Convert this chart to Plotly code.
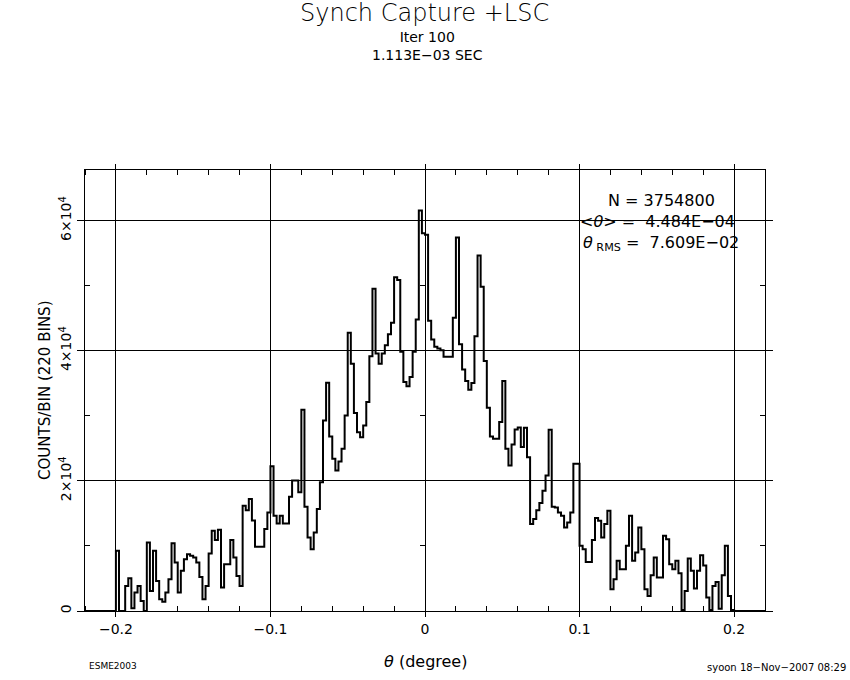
import numpy as np
import plotly.graph_objects as go

# ---- data ----
bin_low = -0.22
bin_width = 0.002
n_bins = 220

counts = [
    0, 0, 0, 0, 0, 0, 0, 0, 0, 0,
    9250, 0, 0, 3850, 5040, 410, 2830, 3850, 1540, 0,
    10540, 3080, 9250, 4630, 1800, 1440, 2830, 4880, 10430, 7450,
    2830, 6170, 7970, 8740, 8500, 8220, 7450, 5240, 1800, 3850,
    8840, 12340, 10900, 12500, 3600, 7200, 7200, 10900, 8230, 5400,
    3850, 16200, 15500, 17200, 13900, 9870, 9870, 9870, 12600, 15160,
    22250, 14650, 13460, 14650, 13460, 13460, 17580, 20050, 20050, 18250,
    30950, 16040, 11310, 9510, 12080, 15680, 19790, 29300, 35110, 26830,
    23390, 21590, 23000, 24930, 30070, 42770, 38030, 30430, 27500, 26730,
    28530, 32130, 39170, 49550, 39580, 38030, 39580, 40860, 42560, 44310,
    51300, 50890, 39840, 35210, 34540, 35980, 39840, 44820, 61580, 58080,
    57830, 44620, 41730, 40610, 40350, 40090, 39070, 39070, 39070, 45080,
    57410, 41020, 37110, 35360, 34030, 35050, 42250, 54640, 49860, 38450,
    31250, 26830, 26470, 26470, 29040, 35360, 24930, 22360, 25600, 27900,
    28200, 25200, 28170, 23640, 13360, 14130, 15500, 16600, 18500, 20820,
    27860, 16040, 15930, 15160, 14650, 12850, 13620, 15160, 22620, 22620,
    10020, 9510, 7550, 7550, 10900, 14290, 13880, 11310, 13370, 15420,
    3340, 4880, 7710, 6430, 6430, 10020, 14650, 7710, 9000, 12850,
    9510, 3340, 2310, 5500, 8220, 5140, 5140, 11570, 11050, 7200,
    6430, 7710, 5800, 150, 3080, 8070, 6170, 3440, 6170, 8580,
    7000, 2060, 150, 3860, 4470, 360, 5500, 10020, 2310, 150,
    0, 0, 0, 0, 0, 0, 0, 0, 0, 0,
]

x_ticks = [-0.2, -0.1, 0.0, 0.1, 0.2]
x_tick_labels = ["\u22120.2", "\u22120.1", "0", "0.1", "0.2"]
y_ticks = [0, 20000, 40000, 60000]
y_tick_labels = ["0", "2\u00d710<sup>4</sup>", "4\u00d710<sup>4</sup>", "6\u00d710<sup>4</sup>"]
y_minor_ticks = [10000, 30000, 50000]

title_main = "Synch Capture +LSC"
title_sub1 = "Iter 100"
title_sub2 = "1.113E\u221203 SEC"
stat_n = "N = 3754800"
stat_mean = "&lt;<i>\u03b8</i>&gt; =\u00a0 4.484E\u221204"
stat_rms = "<i>\u03b8</i><sub>\u00a0RMS</sub> =\u00a0 7.609E\u221202"
x_title = "<i>\u03b8</i> (degree)"
y_title = "COUNTS/BIN (220 BINS)"
foot_left = "ESME2003"
foot_right = "syoon 18\u2212Nov\u22122007 08:29"

# ---- build step outline ----
edges = bin_low + bin_width * np.arange(n_bins + 1)
step_y = list(counts) + [counts[-1]]

FONT = "DejaVu Sans"
W, H = 850, 680
ML, MR, MT, MB = 85, 85, 170, 69
PW, PH = W - ML - MR, H - MT - MB


def px(xp):  # page pixel -> paper fraction
    return (xp - ML) / PW


def py(yp):
    return (MT + PH - yp) / PH


fig = go.Figure()
fig.add_trace(go.Scatter(
    x=edges, y=step_y, mode="lines",
    line=dict(shape="hv", color="black", width=2),
    hoverinfo="skip", showlegend=False,
))
# invisible helper trace so the tick-only axis drawn at theta = 0 is rendered
fig.add_trace(go.Scatter(x=[0], y=[0], yaxis="y2", mode="markers",
                         marker=dict(size=0.1, opacity=0), showlegend=False,
                         hoverinfo="skip"))

y_range = [0, 67800]
tick_font = dict(family=FONT, size=14, color="black")

fig.update_layout(
    width=W, height=H,
    margin=dict(l=ML, r=MR, t=MT, b=MB),
    paper_bgcolor="white", plot_bgcolor="white",
    font=dict(family=FONT, color="black", size=14),
    showlegend=False,
    xaxis=dict(
        range=[bin_low, bin_low + n_bins * bin_width],
        tickvals=x_ticks, ticktext=x_tick_labels,
        showgrid=True, gridcolor="black", gridwidth=1,
        zeroline=False,
        showline=True, linecolor="black", linewidth=1, mirror="ticks",
        ticks="outside", ticklen=5, tickcolor="black", tickwidth=1,
        tickfont=tick_font,
        minor=dict(dtick=0.02, tick0=0, ticks="inside", ticklen=5,
                   tickcolor="black", tickwidth=1, showgrid=False),
    ),
    yaxis=dict(
        range=y_range,
        tickvals=y_ticks, ticktext=y_tick_labels, tickangle=-90,
        showgrid=True, gridcolor="black", gridwidth=1,
        zeroline=False,
        showline=True, linecolor="black", linewidth=1, mirror="ticks",
        ticks="outside", ticklen=7, tickcolor="black", tickwidth=1,
        tickfont=tick_font,
        minor=dict(tickvals=y_minor_ticks, ticks="inside", ticklen=5,
                   tickcolor="black", tickwidth=1, showgrid=False),
    ),
    yaxis2=dict(
        range=y_range, overlaying="y", anchor="free", position=0.5,
        side="left", showgrid=False, zeroline=False, showline=False,
        tickvals=y_minor_ticks, ticks="outside", ticklen=5,
        tickcolor="black", showticklabels=False,
    ),
)

ann = [
    dict(text=title_main, x=px(424), y=py(13), size=24, weight=300),
    dict(text=title_sub1 + "<br>" + title_sub2, x=px(427), y=py(46.5), size=14, weight=400),
    dict(text=stat_n, x=px(661), y=py(200), size=16, weight=400),
    dict(text=stat_mean, x=px(657), y=py(222), size=16, weight=400),
    dict(text=stat_rms, x=px(661), y=py(243), size=16, weight=400),
    dict(text=x_title, x=px(425), y=py(661), size=16, weight=400),
]
for a in ann:
    fig.add_annotation(text=a["text"], x=a["x"], y=a["y"], xref="paper", yref="paper",
                       showarrow=False, xanchor="center", yanchor="middle",
                       font=dict(family=FONT, size=a["size"], color="black",
                                 weight=a["weight"]))

fig.add_annotation(text=y_title, x=px(45), y=py(391), xref="paper", yref="paper",
                   showarrow=False, textangle=-90, xanchor="center", yanchor="middle",
                   font=dict(family=FONT, size=15, color="black"))
fig.add_annotation(text=foot_left, x=px(87), y=py(666), xref="paper", yref="paper",
                   showarrow=False, xanchor="left", yanchor="middle",
                   font=dict(family=FONT, size=9, color="black"))
fig.add_annotation(text=foot_right, x=px(848), y=py(667), xref="paper", yref="paper",
                   showarrow=False, xanchor="right", yanchor="middle",
                   font=dict(family=FONT, size=10, color="black"))

fig.write_html("out.html",
               config={"displayModeBar": False},
               post_script="document.body.style.margin='0px';"
                           "document.body.style.overflow='hidden';")
